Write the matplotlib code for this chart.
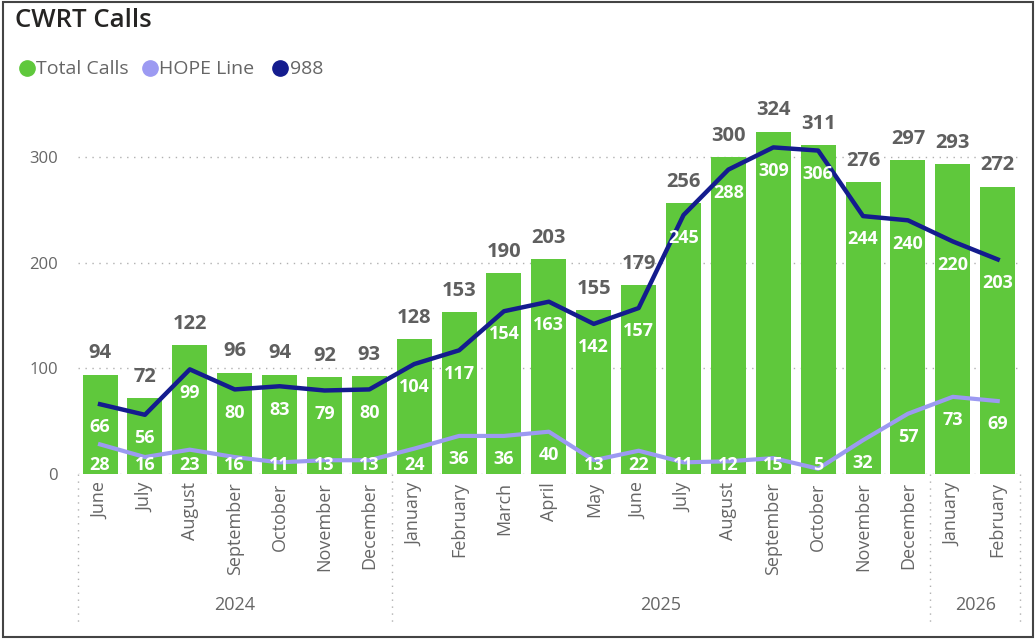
import numpy as np
import matplotlib
matplotlib.use("Agg")
import matplotlib.pyplot as plt
from matplotlib.lines import Line2D
from matplotlib.patches import Rectangle

plt.rcParams["font.family"] = ["Open Sans", "DejaVu Sans"]

months = ["June", "July", "August", "September", "October", "November", "December",
          "January", "February", "March", "April", "May", "June", "July", "August",
          "September", "October", "November", "December", "January", "February"]
years = ["2024", "2025", "2026"]
year_counts = [7, 12, 2]
total_calls = [94, 72, 122, 96, 94, 92, 93, 128, 153, 190, 203, 155, 179, 256, 300, 324, 311, 276, 297, 293, 272]
line_988 = [66, 56, 99, 80, 83, 79, 80, 104, 117, 154, 163, 142, 157, 245, 288, 309, 306, 244, 240, 220, 203]
hope_line = [28, 16, 23, 16, 11, 13, 13, 24, 36, 36, 40, 13, 22, 11, 12, 15, 5, 32, 57, 73, 69]

GREEN = "#5FC83C"; LAV = "#9C9AF2"; NAVY = "#141C8E"; GRAY = "#5F5F5F"

fig = plt.figure(figsize=(10.36, 6.4), dpi=100)
ax = fig.add_axes([0.0749, 0.2594, 0.9098, 0.578])
x = np.arange(len(months))

ax.bar(x, total_calls, width=0.78, color=GREEN, zorder=2)
ax.plot(x, hope_line, color=LAV, lw=3, zorder=3, solid_joinstyle="round")
ax.plot(x, line_988, color=NAVY, lw=3.2, zorder=4, solid_joinstyle="round")

for i in x:
    ax.text(i, total_calls[i] + 20, str(total_calls[i]), ha="center", va="center",
            fontsize=14.5, fontweight="bold", color=GRAY, zorder=5)
    ax.text(i, line_988[i] - 22, str(line_988[i]), ha="center", va="center",
            fontsize=13, fontweight="bold", color="white", zorder=5)
    ax.text(i, max(hope_line[i] - 22, 8.5), str(hope_line[i]), ha="center", va="center",
            fontsize=13, fontweight="bold", color="white", zorder=5)

ax.set_xlim(-0.5, len(months) - 0.5)
ax.set_ylim(0, 350)
ax.set_yticks([0, 100, 200, 300])
ax.yaxis.grid(True, ls=(0, (1, 4)), color="#B0B0B0", lw=1)
ax.set_axisbelow(True)
for s in ax.spines.values():
    s.set_visible(False)
ax.tick_params(axis="y", length=0, labelsize=12, labelcolor="#666666", pad=14)
ax.set_xticks(x)
ax.set_xticklabels(months, rotation=90, fontsize=13, color="#666666")
ax.tick_params(axis="x", length=0, pad=6)

# year grouping
bounds = np.concatenate([[0], np.cumsum(year_counts)]) - 0.5
for b in bounds:
    ax.plot([b, b], [0, -142], ls=(0, (1, 4)), color="#B0B0B0", lw=1, clip_on=False)
for k, yr in enumerate(years):
    mid = (bounds[k] + bounds[k + 1]) / 2
    ax.text(mid, -124, yr, ha="center", va="center", fontsize=13, color="#666666")

# title and legend
fig.text(0.0145, 0.968, "CWRT Calls", fontsize=18.5, fontweight="semibold", color="#252423",
         ha="left", va="center")
legend = [("Total Calls", GREEN, 0.026), ("HOPE Line", LAV, 0.1445), ("988", NAVY, 0.2705)]
for label, col, lx in legend:
    fig.add_artist(Line2D([lx], [0.894], marker="o", ms=11, color=col, lw=0,
                          transform=fig.transFigure))
    fig.text(lx + 0.009, 0.892, label, fontsize=14, color="#666666", ha="left", va="center")

fig.add_artist(Rectangle((0.003, 0.005), 0.994, 0.992, fill=False, ec="#444444", lw=1.5,
                         transform=fig.transFigure))

fig.savefig("out.png", dpi=100)
